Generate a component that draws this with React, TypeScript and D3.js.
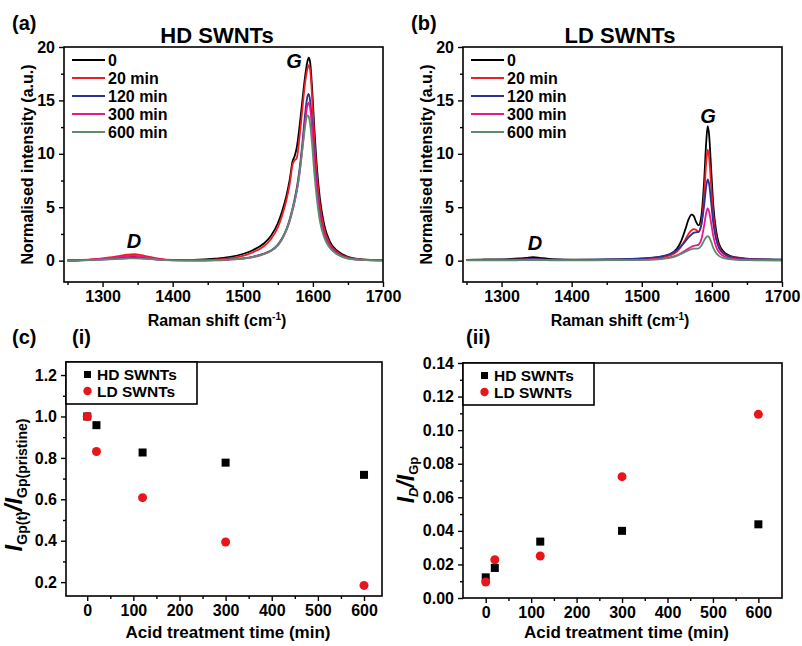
import React, { useRef, useEffect } from "react";
import * as d3 from "d3";

// Raman shift grid (cm-1) shared by all spectra
const shift = [1250, 1270, 1290, 1310, 1325, 1335, 1345, 1355, 1365, 1380, 1400, 1430, 1460, 1480, 1500, 1515, 1530, 1540, 1550, 1556, 1562, 1567, 1571, 1574, 1577, 1581, 1585, 1589, 1592, 1594, 1596, 1599, 1602, 1606, 1610, 1616, 1624, 1635, 1650, 1670, 1700];

// HD SWNTs spectra
const hd0 = [0.02, 0.05, 0.12, 0.22, 0.32, 0.38, 0.4, 0.35, 0.25, 0.12, 0.06, 0.08, 0.18, 0.32, 0.62, 1.0, 1.6, 2.3, 3.5, 4.6, 6.0, 7.6, 9.3, 9.8, 10.6, 12.6, 15.0, 17.3, 18.6, 19.0, 18.6, 16.0, 12.5, 8.5, 5.8, 3.4, 1.8, 0.9, 0.35, 0.12, 0.04];
const hd20 = [0.02, 0.06, 0.15, 0.3, 0.45, 0.55, 0.6, 0.52, 0.38, 0.18, 0.06, 0.04, 0.1, 0.22, 0.45, 0.8, 1.35, 2.0, 3.1, 4.2, 5.6, 7.2, 9.0, 9.4, 9.6, 11.6, 14.2, 16.7, 17.9, 18.3, 17.9, 15.2, 11.6, 7.8, 5.2, 3.0, 1.6, 0.8, 0.3, 0.1, 0.03];
const hd120 = [0.0, 0.03, 0.08, 0.14, 0.2, 0.24, 0.26, 0.24, 0.18, 0.1, 0.04, 0.03, 0.06, 0.12, 0.22, 0.38, 0.65, 0.95, 1.5, 2.1, 2.9, 3.9, 4.9, 5.8, 6.8, 8.6, 11.0, 13.8, 15.3, 15.6, 15.0, 12.8, 9.8, 6.6, 4.3, 2.5, 1.35, 0.65, 0.25, 0.08, 0.03];
const hd300 = [0.0, 0.04, 0.12, 0.24, 0.35, 0.42, 0.45, 0.4, 0.28, 0.12, 0.03, 0.0, 0.03, 0.08, 0.18, 0.33, 0.6, 0.9, 1.42, 2.0, 2.8, 3.7, 4.7, 5.5, 6.5, 8.2, 10.5, 13.0, 14.5, 14.8, 14.3, 12.2, 9.3, 6.3, 4.1, 2.4, 1.3, 0.62, 0.22, 0.07, 0.02];
const hd600 = [0.0, 0.03, 0.07, 0.12, 0.17, 0.2, 0.22, 0.2, 0.15, 0.08, 0.03, 0.02, 0.05, 0.1, 0.2, 0.36, 0.62, 0.92, 1.45, 2.05, 2.85, 3.8, 4.8, 5.6, 6.5, 8.2, 10.4, 12.6, 13.6, 13.5, 12.8, 10.8, 8.2, 5.6, 3.7, 2.2, 1.2, 0.58, 0.2, 0.07, 0.02];

// LD SWNTs spectra
const ld0 = [0.08, 0.1, 0.12, 0.15, 0.2, 0.26, 0.32, 0.26, 0.18, 0.12, 0.1, 0.1, 0.12, 0.14, 0.18, 0.25, 0.4, 0.6, 1.1, 1.8, 2.9, 3.9, 4.3, 4.2, 3.7, 3.3, 4.2, 7.5, 11.2, 12.6, 11.8, 8.5, 5.2, 2.8, 1.6, 0.9, 0.5, 0.3, 0.18, 0.12, 0.1];
const ld20 = [0.05, 0.06, 0.06, 0.08, 0.1, 0.13, 0.15, 0.12, 0.08, 0.06, 0.05, 0.06, 0.08, 0.1, 0.14, 0.2, 0.32, 0.48, 0.85, 1.3, 1.95, 2.55, 2.85, 2.95, 2.9, 2.7, 3.4, 6.2, 9.3, 10.4, 9.7, 7.0, 4.3, 2.3, 1.35, 0.75, 0.42, 0.25, 0.15, 0.1, 0.08];
const ld120 = [0.08, 0.08, 0.08, 0.09, 0.1, 0.12, 0.14, 0.12, 0.1, 0.09, 0.08, 0.09, 0.12, 0.15, 0.2, 0.28, 0.42, 0.62, 0.98, 1.35, 1.8, 2.2, 2.45, 2.6, 2.65, 2.7, 3.4, 5.2, 7.0, 7.6, 7.2, 5.4, 3.5, 2.0, 1.2, 0.7, 0.4, 0.25, 0.16, 0.12, 0.1];
const ld300 = [0.05, 0.05, 0.05, 0.05, 0.06, 0.07, 0.08, 0.07, 0.06, 0.05, 0.05, 0.05, 0.06, 0.07, 0.08, 0.12, 0.2, 0.3, 0.5, 0.7, 0.95, 1.15, 1.3, 1.38, 1.42, 1.5, 2.0, 3.3, 4.5, 4.9, 4.6, 3.5, 2.3, 1.3, 0.8, 0.45, 0.25, 0.15, 0.1, 0.08, 0.07];
const ld600 = [0.02, 0.02, 0.03, 0.03, 0.04, 0.05, 0.06, 0.05, 0.04, 0.03, 0.03, 0.03, 0.04, 0.05, 0.07, 0.1, 0.17, 0.26, 0.45, 0.62, 0.82, 0.98, 1.08, 1.12, 1.12, 1.15, 1.4, 1.9, 2.2, 2.3, 2.2, 1.75, 1.2, 0.72, 0.45, 0.25, 0.15, 0.08, 0.04, 0.02, 0.0];

const spectraLabels = ["0", "20 min", "120 min", "300 min", "600 min"];
const spectraColors = ["#000000", "#ee1c24", "#2e3192", "#ec178c", "#5f8a70"];

// acid treatment time (min)
const times = [0, 20, 120, 300, 600];
const gRatioHD = [1.0, 0.958, 0.826, 0.777, 0.718];
const gRatioLD = [1.0, 0.831, 0.608, 0.394, 0.184];
const dgHD = [0.0123, 0.0179, 0.0336, 0.04, 0.0439];
const dgLD = [0.0095, 0.0228, 0.025, 0.0723, 0.1094];

const FONT = "'Liberation Sans', Arial, sans-serif";

export default () => {
    const svgRef = useRef(null);

    useEffect(() => {
        const svg = d3.select(svgRef.current);
        svg.selectAll("*").remove();

        const axes = (g, x, y, xMajor, xMinor, yMajor, yMinor, yFmt) => {
            const [l, r] = x.range();
            const [b, t] = y.range();
            const style = sel => {
                sel.select(".domain").remove();
                sel.selectAll("line").attr("stroke", "#000").attr("stroke-width", 1.4);
                sel.selectAll("text").attr("font-family", FONT).attr("font-weight", "bold").attr("font-size", 16).attr("fill", "#000");
            };
            g.append("g").attr("transform", `translate(0,${b})`)
                .call(d3.axisBottom(x).tickValues(xMinor).tickSize(3).tickFormat(() => "")).call(style);
            g.append("g").attr("transform", `translate(0,${b})`)
                .call(d3.axisBottom(x).tickValues(xMajor).tickSize(5).tickPadding(4).tickFormat(d3.format("d"))).call(style);
            g.append("g").attr("transform", `translate(${l},0)`)
                .call(d3.axisLeft(y).tickValues(yMinor).tickSize(3).tickFormat(() => "")).call(style);
            g.append("g").attr("transform", `translate(${l},0)`)
                .call(d3.axisLeft(y).tickValues(yMajor).tickSize(5).tickPadding(4).tickFormat(yFmt)).call(style);
            g.append("rect")
                .attr("x", l).attr("y", t).attr("width", r - l).attr("height", b - t)
                .attr("fill", "none").attr("stroke", "#000").attr("stroke-width", 1.6);
        };

        const txt = (x, y, s, size, opts: any = {}) => svg.append("text")
            .attr("x", x).attr("y", y).attr("font-family", FONT).attr("font-weight", "bold")
            .attr("font-size", size).attr("text-anchor", opts.anchor || "start")
            .attr("font-style", opts.italic ? "italic" : "normal").text(s);

        const ramanLabel = cx => {
            const t = svg.append("text").attr("x", cx).attr("y", 326).attr("text-anchor", "middle")
                .attr("font-family", FONT).attr("font-weight", "bold").attr("font-size", 16);
            t.append("tspan").text("Raman shift (cm");
            t.append("tspan").attr("dy", -6).attr("font-size", 10).text("-1");
            t.append("tspan").attr("dy", 6).text(")");
        };

        const spectrumPanel = (left, right, title, label, cx, series, gPos, dPos) => {
            const x = d3.scaleLinear().domain([1245, 1700]).range([left, right]);
            const y = d3.scaleLinear().domain([-2, 20]).range([282, 47]);
            const g = svg.append("g");
            const line = d3.line().x((d, i) => x(shift[i])).y(d => y(d)).curve(d3.curveMonotoneX);
            series.forEach((s, k) => {
                g.append("path").datum(s).attr("d", line).attr("fill", "none")
                    .attr("stroke", spectraColors[k]).attr("stroke-width", 1.8);
            });
            axes(g, x, y,
                [1300, 1400, 1500, 1600, 1700], [1250, 1350, 1450, 1550, 1650],
                [0, 5, 10, 15, 20], [2.5, 7.5, 12.5, 17.5], d3.format("d"));
            // legend
            spectraLabels.forEach((lab, k) => {
                const yy = 60 + k * 18;
                g.append("line").attr("x1", left + 8).attr("x2", left + 41).attr("y1", yy).attr("y2", yy)
                    .attr("stroke", spectraColors[k]).attr("stroke-width", 2);
                txt(left + 44, yy + 6, lab, 16);
            });
            txt(cx, 43, title, 22, { anchor: "middle" });
            txt(left - 52, 30, label, 20);
            txt(gPos[0], gPos[1], "G", 20, { anchor: "middle", italic: true });
            txt(dPos[0], dPos[1], "D", 20, { anchor: "middle", italic: true });
            ramanLabel(cx);
            svg.append("text").attr("transform", `translate(${left - 31},${y(9)}) rotate(-90)`)
                .attr("text-anchor", "middle").attr("font-family", FONT).attr("font-weight", "bold")
                .attr("font-size", 16).text("Normalised intensity (a.u.)");
        };

        spectrumPanel(64, 383, "HD SWNTs", "(a)", 217, [hd0, hd20, hd120, hd300, hd600], [294, 68], [134, 248]);
        spectrumPanel(463, 782, "LD SWNTs", "(b)", 620, [ld0, ld20, ld120, ld300, ld600], [708, 123], [535, 250]);

        const scatterPanel = (x, y, xMajor, xMinor, yMajor, yMinor, yFmt, hd, ld) => {
            const g = svg.append("g");
            axes(g, x, y, xMajor, xMinor, yMajor, yMinor, yFmt);
            g.append("g").selectAll("rect").data(times).join("rect")
                .attr("x", d => x(d) - 4).attr("y", (d, i) => y(hd[i]) - 4)
                .attr("width", 8).attr("height", 8).attr("fill", "#000");
            g.append("g").selectAll("circle").data(times).join("circle")
                .attr("cx", d => x(d)).attr("cy", (d, i) => y(ld[i])).attr("r", 4.5).attr("fill", "#e8161c");
            const [l] = x.range();
            const [, t] = y.range();
            g.append("rect").attr("x", l).attr("y", t).attr("width", 131).attr("height", 42)
                .attr("fill", "#fff").attr("stroke", "#000").attr("stroke-width", 1.6);
            g.append("rect").attr("x", l + 18).attr("y", t + 9).attr("width", 7).attr("height", 7).attr("fill", "#000");
            g.append("circle").attr("cx", l + 21.5).attr("cy", t + 29).attr("r", 4.2).attr("fill", "#e8161c");
            txt(l + 31, t + 18, "HD SWNTs", 15.5);
            txt(l + 31, t + 35, "LD SWNTs", 15.5);
            txt((x.range()[0] + x.range()[1]) / 2 + 4, 638, "Acid treatment time (min)", 17, { anchor: "middle" });
        };

        const x1 = d3.scaleLinear().domain([-46, 639]).range([66, 382]);
        const y1 = d3.scaleLinear().domain([0.133, 1.263]).range([596, 362]);
        scatterPanel(x1, y1, [0, 100, 200, 300, 400, 500, 600], [50, 150, 250, 350, 450, 550],
            [0.2, 0.4, 0.6, 0.8, 1.0, 1.2], [0.3, 0.5, 0.7, 0.9, 1.1], d3.format(".1f"), gRatioHD, gRatioLD);

        const x2 = d3.scaleLinear().domain([-50, 652]).range([463, 782]);
        const y2 = d3.scaleLinear().domain([0, 0.14]).range([598, 363]);
        scatterPanel(x2, y2, [0, 100, 200, 300, 400, 500, 600], [50, 150, 250, 350, 450, 550],
            [0, 0.02, 0.04, 0.06, 0.08, 0.1, 0.12, 0.14], [0.01, 0.03, 0.05, 0.07, 0.09, 0.11, 0.13], d3.format(".2f"), dgHD, dgLD);

        txt(12, 344, "(c)", 20);
        txt(72, 344, "(i)", 20);
        txt(466, 344, "(ii)", 20);

        // y label (i)
        const l1 = svg.append("text").attr("transform", "translate(22,485) rotate(-90)")
            .attr("text-anchor", "middle").attr("font-family", FONT).attr("font-weight", "bold");
        l1.append("tspan").attr("font-size", 24).attr("font-style", "italic").text("I");
        l1.append("tspan").attr("font-size", 14).attr("dy", 5).text("Gp(t)");
        l1.append("tspan").attr("font-size", 24).attr("dy", -5).attr("font-style", "italic").text("/I");
        l1.append("tspan").attr("font-size", 14).attr("dy", 5).text("Gp(pristine)");

        // y label (ii)
        const l2 = svg.append("text").attr("transform", "translate(414,480) rotate(-90)")
            .attr("text-anchor", "middle").attr("font-family", FONT).attr("font-weight", "bold");
        l2.append("tspan").attr("font-size", 23).attr("font-style", "italic").text("I");
        l2.append("tspan").attr("font-size", 13).attr("dy", 4).attr("font-style", "italic").text("D");
        l2.append("tspan").attr("font-size", 23).attr("dy", -4).attr("font-style", "italic").text("/I");
        l2.append("tspan").attr("font-size", 13).attr("dy", 4).text("Gp");
    }, []);

    return (
        <svg ref={svgRef} width={802} height={646}
            style={{ position: "absolute", left: 0, top: 0, background: "#fff" }} />
    );
};
